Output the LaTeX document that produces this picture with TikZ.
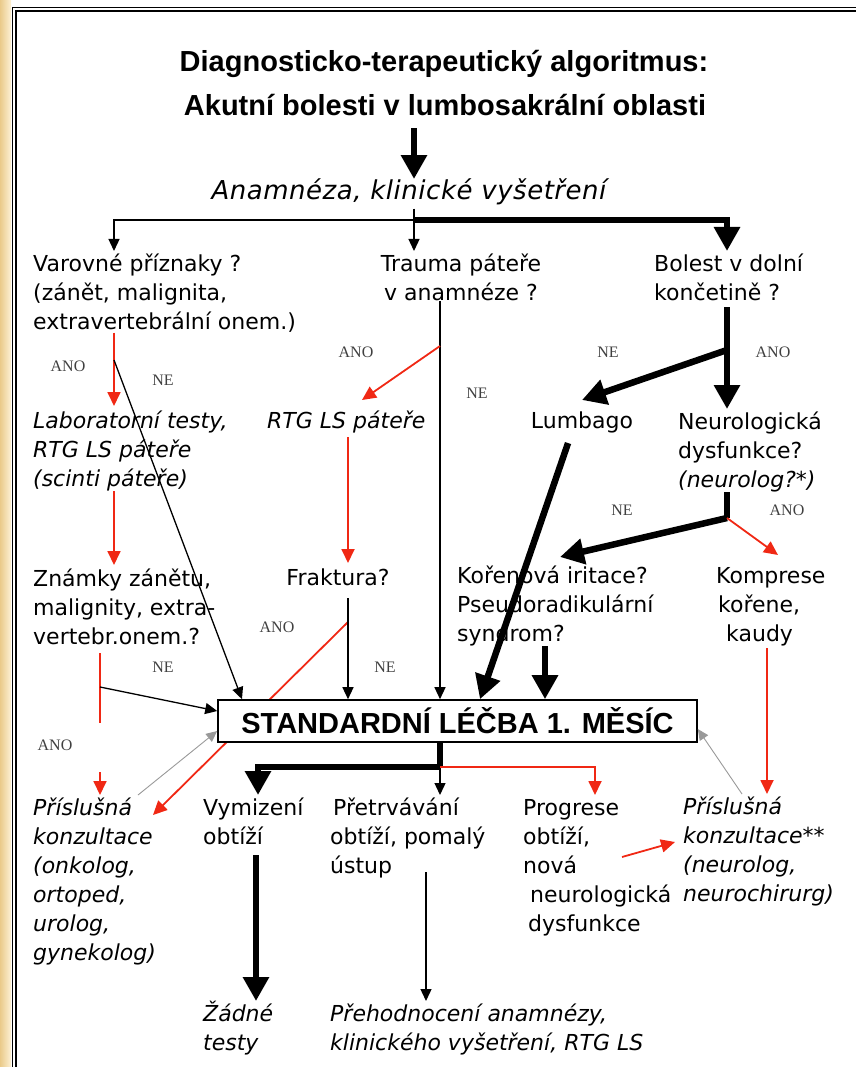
\documentclass[tikz,border=0pt]{standalone}
\usepackage{fontspec}
\setmainfont{DejaVu Sans}
\newfontfamily\headfont{Liberation Sans}
\newfontfamily\ynfont{Liberation Serif}
\usetikzlibrary{arrows.meta}
\definecolor{alarmred}{RGB}{240,40,20}
\definecolor{tanleft}{RGB}{234,202,138}
\definecolor{tanright}{RGB}{253,241,212}

\begin{document}
\begin{tikzpicture}[x=1pt,y=-1pt,
    body/.style={inner sep=0pt, anchor=north west, align=left, font=\fontsize{22}{29}\selectfont},
    bodyit/.style={body, font=\fontsize{22}{29}\selectfont\itshape},
    bodyc/.style={body, anchor=north, align=center},
    title/.style={inner sep=0pt, anchor=base, font=\headfont\bfseries\fontsize{29}{34}\selectfont},
    stdbox/.style={draw, line width=1.6pt, fill=white, minimum width=479pt, minimum height=42pt,
        inner sep=0pt, font=\headfont\bfseries\fontsize{29}{29}\selectfont},
    yn/.style={inner sep=0pt, text=black!75, font=\ynfont\fontsize{16}{16}\selectfont},
    thinln/.style={line width=1.3pt},
    thinarr/.style={thinln, -{Triangle[length=12pt,width=11pt]}},
    grayarr/.style={line width=0.9pt, gray!80, -{Triangle[length=11pt,width=10pt]}},
    redln/.style={line width=1.8pt, alarmred},
    redarr/.style={redln, -{Triangle[length=14pt,width=13pt]}},
    thickln/.style={line width=6.5pt},
    thickarr/.style={thickln, -{Triangle[length=24pt,width=25pt]}}]
\useasboundingbox (0,0) rectangle (856,1067);

% frame
\shade[left color=tanleft, right color=tanright] (0,0) rectangle (11,1067);
\draw[line width=1.2pt] (12.5,1067) -- (12.5,7.5) -- (856,7.5);
\draw[line width=1.2pt] (16,1067) -- (16,11) -- (856,11);

% title
\node[title] (title1) at (444,72) {Diagnosticko-terapeutický algoritmus:};
\node[title] (title2) at (445,116) {Akutní bolesti v lumbosakrální oblasti};
\node[inner sep=0pt, anchor=base, font=\fontsize{26}{29}\selectfont\itshape\addfontfeature{LetterSpace=2}]
    (anamneza) at (409,200) {Anamnéza, klinické vyšetření};

% first row
\node[body] (varovne) at (33,251) {\strut Varovné příznaky ?\\(zánět, malignita,\\extravertebrální onem.)};
\node[bodyc] (trauma) at (461,251) {\strut Trauma páteře\\v anamnéze ?};
\node[body] (bolest) at (654,251) {\strut Bolest v dolní\\končetině ?};

% second row
\node[bodyit] (labor) at (33,408) {\strut Laboratorní testy,\\RTG LS páteře\\(scinti páteře)};
\node[bodyit] (rtg) at (267,408) {\strut RTG LS páteře};
\node[bodyc] (lumbago) at (582,408) {\strut Lumbago};
\node[body] (neuro) at (678,409) {\strut Neurologická\\dysfunkce?\\\textit{(neurolog?*)}};

% third row
\node[body] (znamky) at (33,566) {\strut Známky zánětu,\\malignity, extra-\\vertebr.onem.?};
\node[bodyc] (fraktura) at (338,565) {\strut Fraktura?};
\node[body] (korenova) at (457,563) {\strut Kořenová iritace?\\Pseudoradikulární\\syndrom?};
\node[body] (komprese) at (716,563) {\strut Komprese\\\hspace*{2pt}kořene,\\\hspace*{10pt}kaudy};

% fourth row
\node[bodyit] (konzL) at (33,795) {\strut Příslušná\\konzultace\\(onkolog,\\ortoped,\\urolog,\\gynekolog)};
\node[body] (vymizeni) at (203,795) {\strut Vymizení\\obtíží};
\node[body] (pretrv) at (330,795) {\strut\hspace*{3pt}Přetrvávání\\obtíží, pomalý\\ústup};
\node[body] (progrese) at (523,795) {\strut Progrese\\obtíží,\\nová\\\hspace*{7pt}neurologická\\\hspace*{5pt}dysfunkce};
\node[bodyit] (konzR) at (683,794) {\strut Příslušná\\konzultace**\\(neurolog,\\neurochirurg)};

% last row
\node[bodyit] (zadne) at (203,1001) {\strut Žádné\\testy};
\node[bodyit] (prehod) at (330,1001) {\strut Přehodnocení anamnézy,\\klinického vyšetření, RTG LS};

% branch points
\coordinate (split) at (414,220);
\coordinate (vne) at (114,360);
\coordinate (zne) at (100,687);
\coordinate (zano) at (100,772);
\coordinate (tano) at (440,346);
\coordinate (fano) at (348,622);
\coordinate (bsplit) at (727,350);
\coordinate (nsplit) at (727,518);
\coordinate (ssplit) at (440,767);
\coordinate (kaudy) at (767,648);

% red line passing under the box
\draw[redarr] (fano) -- ([shift={(120,20)}]konzL.north west);

\node[stdbox] (std) at (457.5,721) {STANDARDNÍ LÉČBA 1. MĚSÍC};

% from the title
\draw[thickarr, shorten <=12pt] (split |- title2.south) -- (split |- anamneza.north);
\draw[thinln] ([yshift=-3pt]split |- anamneza.south) -- (split);
\draw[thinarr] (split) -| (vne |- varovne.north);
\draw[thinarr] (split) -- (split |- trauma.north);
\draw[thickarr] (split) -| (bsplit |- bolest.north);

% left column
\draw[redarr, shorten >=2pt] (vne |- varovne.south) -- (vne |- labor.north);
\draw[thinarr] (vne) -- ([xshift=-215.5pt]std.north);
\draw[redarr, shorten >=1pt] (vne |- labor.south) -- (vne |- znamky.north);
\draw[redln] ([yshift=-8pt]zne |- znamky.south) -- ([yshift=-36pt]zne);
\draw[thinarr] (zne) -- ([yshift=10pt]std.west);
\draw[redarr] (zano) -- (zano |- konzL.north);
\draw[grayarr] ([xshift=105pt]konzL.north west) -- ([yshift=-10pt]std.west);

% trauma column
\draw[thinarr] ([xshift=-21pt]trauma.south) -- (tano |- std.north);
\draw[redarr] (tano) -- ([shift={(95,-8)}]rtg.north west);
\draw[redarr, shorten >=2pt] ([xshift=81pt]rtg.south west) -- (fano |- fraktura.north);
\draw[thinarr, shorten <=4pt] ([xshift=10pt]fraktura.south) -- (fano |- std.north);

% leg pain column
\draw[thickln, shorten <=6pt] (bsplit |- bolest.south) -- (bsplit);
\draw[thickarr] (bsplit) -- (bsplit |- neuro.north);
\draw[thickarr] (bsplit) -- ([yshift=8pt]lumbago.north);
\draw[thickarr, shorten <=6pt] ([xshift=-12pt]lumbago.south) -- ([xshift=22.5pt]std.north);
\draw[thickln] (nsplit |- neuro.south) -- (nsplit);
\draw[thickarr] (nsplit) -- ([shift={(103,-6)}]korenova.north west);
\draw[redarr] (nsplit) -- ([shift={(62,-8)}]komprese.north west);
\draw[thickarr] ([xshift=88pt]korenova.south west) -- ([xshift=88pt]korenova.south west |- std.north);
\draw[redarr] (kaudy) -- (kaudy |- konzR.north);
\draw[grayarr] ([xshift=59pt]konzR.north west) -- ([yshift=-8pt]std.east);

% after the first month
\draw[thickln] (ssplit |- std.south) -- (ssplit);
\draw[thickarr] (ssplit) -| ([xshift=55pt]vymizeni.north west);
\draw[thinarr] (ssplit) -- (ssplit |- pretrv.north);
\draw[redarr] (ssplit) -| ([xshift=72pt]progrese.north west);
\draw[thickarr, shorten <=10pt] ([xshift=53pt]vymizeni.south west) -- ([xshift=53pt]zadne.north west);
\draw[thinarr, shorten <=-6pt] ([xshift=96pt]pretrv.south west) -- ([xshift=96pt]prehod.north west);
\draw[redarr] ([shift={(99,62)}]progrese.north west) -- ([shift={(-8,48)}]konzR.north west);

% ANO / NE
\node[yn] (a1) at (68,366) {ANO};
\node[yn] (n1) at (163,380) {NE};
\node[yn] (a2) at (356,352) {ANO};
\node[yn] (n2) at (477,393) {NE};
\node[yn] (n3) at (608,352) {NE};
\node[yn] (a3) at (773,352) {ANO};
\node[yn] (n4) at (622,510) {NE};
\node[yn] (a4) at (787,510) {ANO};
\node[yn] (a5) at (277,627) {ANO};
\node[yn] (n5) at (385,667) {NE};
\node[yn] (n6) at (163,667) {NE};
\node[yn] (a6) at (55,745) {ANO};
\end{tikzpicture}
\end{document}
